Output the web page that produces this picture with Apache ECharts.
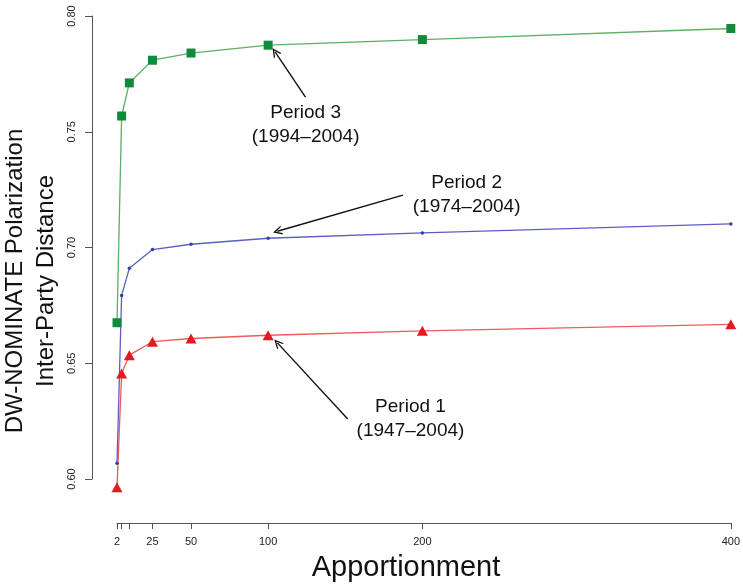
<!DOCTYPE html>
<html>
<head>
<meta charset="utf-8">
<script src="https://cdn.jsdelivr.net/npm/echarts@6/dist/echarts.min.js"></script>
<style>html,body{margin:0;padding:0;background:#fff;}#c{width:743px;height:587px;}</style>
</head>
<body>
<div id="c"></div>
<script>
// ---- data ----
const apportionment = [2, 5, 10, 25, 50, 100, 200, 400];
const tickValues = [2, 5, 10, 25, 50, 100, 200, 400];
const tickLabels = [2, 25, 50, 100, 200, 400];
const yTicks = [0.60, 0.65, 0.70, 0.75, 0.80];
const period3 = [0.6675, 0.7568, 0.7711, 0.7809, 0.7840, 0.7874, 0.7898, 0.7946];
const period2 = [0.6068, 0.6793, 0.6910, 0.6991, 0.7014, 0.7040, 0.7063, 0.7102];
const period1 = [0.5964, 0.6456, 0.6535, 0.6593, 0.6607, 0.6621, 0.6640, 0.6668];
const label3 = 'Period 3\n(1994\u20132004)';
const label2 = 'Period 2\n(1974\u20132004)';
const label1 = 'Period 1\n(1947\u20132004)';
// annotation anchors in data units: [text x, text y, arrow tail x, tail y, arrow tip x, tip y]
const note3 = [124.3, 0.7532, 124.2, 0.7650, 104.5, 0.7845];
const note2 = [228.7, 0.7228, 187.4, 0.7226, 106.0, 0.7070];
const note1 = [192.3, 0.6261, 151.6, 0.6259, 106.0, 0.6588];

const FONT = '"Liberation Sans", Arial, Helvetica, sans-serif';
const arrowHead = 'path://M5,0 L10,10 L8.4,10 L5,3.2 L1.6,10 L0,10 Z';

function pairs(xs, ys){ return xs.map((x,i)=>[x, ys[i]]); }

function annotation(note, text){
  return {
    markPoint: {
      silent: true, animation: false,
      symbol: 'circle', symbolSize: 0,
      label: { show: true, position: 'inside', formatter: text, color: '#111',
               fontFamily: FONT, fontSize: 19, lineHeight: 24, align: 'center', verticalAlign: 'middle' },
      data: [{ coord: [note[0], note[1]] }]
    },
    markLine: {
      silent: true, animation: false,
      symbol: ['none', arrowHead], symbolSize: [9, 9],
      label: { show: false },
      lineStyle: { color: '#111', width: 1.4, type: 'solid' },
      emphasis: { disabled: true },
      data: [[ { coord: [note[2], note[3]] }, { coord: [note[4], note[5]] } ]]
    }
  };
}

const chart = echarts.init(document.getElementById('c'), null, { renderer: 'canvas' });
chart.setOption({
  animation: false,
  backgroundColor: '#fff',
  grid: { left: 117, right: 8, top: 16, bottom: 108, containLabel: false },
  xAxis: {
    type: 'value', min: 2, max: 400, offset: 44,
    splitLine: { show: false },
    axisLine: { show: true, lineStyle: { color: '#555', width: 1 } },
    axisTick: { show: true, inside: false, length: 6, customValues: tickValues, lineStyle: { color: '#555' } },
    axisLabel: { show: true, customValues: tickLabels, margin: 13, color: '#222', fontSize: 11, fontFamily: FONT }
  },
  yAxis: {
    type: 'value', min: yTicks[0], max: yTicks[yTicks.length-1], interval: 0.05, offset: 25,
    splitLine: { show: false },
    axisLine: { show: true, lineStyle: { color: '#555', width: 1 } },
    axisTick: { show: true, inside: false, length: 7, lineStyle: { color: '#555' } },
    axisLabel: { show: true, rotate: 90, margin: 15, color: '#222', fontSize: 11, fontFamily: FONT,
                 formatter: v => v.toFixed(2) }
  },
  series: [
    Object.assign({
      type: 'line', name: 'Period 1', data: pairs(apportionment, period1), clip: false,
      symbol: 'triangle', symbolSize: [11, 10],
      lineStyle: { color: '#f05a5a', width: 1.3 },
      itemStyle: { color: '#e8191e' }
    }, annotation(note1, label1)),
    Object.assign({
      type: 'line', name: 'Period 2', data: pairs(apportionment, period2), clip: false,
      symbol: 'circle', symbolSize: 3.5,
      lineStyle: { color: '#5a5ec4', width: 1.3 },
      itemStyle: { color: '#3a3aa8' }
    }, annotation(note2, label2)),
    Object.assign({
      type: 'line', name: 'Period 3', data: pairs(apportionment, period3), clip: false,
      symbol: 'rect', symbolSize: 9,
      lineStyle: { color: '#5cb060', width: 1.3 },
      itemStyle: { color: '#118a3c' }
    }, annotation(note3, label3))
  ],
  graphic: [
    { type: 'text', x: 31, y: 281, rotation: Math.PI/2,
      style: { text: 'DW-NOMINATE Polarization\nInter-Party Distance', fill: '#111',
               font: '24px ' + FONT, lineHeight: 31, align: 'center', verticalAlign: 'middle' } },
    { type: 'text', x: 406, y: 568,
      style: { text: 'Apportionment', fill: '#111', font: '29px ' + FONT, align: 'center', verticalAlign: 'middle' } }
  ]
});
</script>
</body>
</html>
